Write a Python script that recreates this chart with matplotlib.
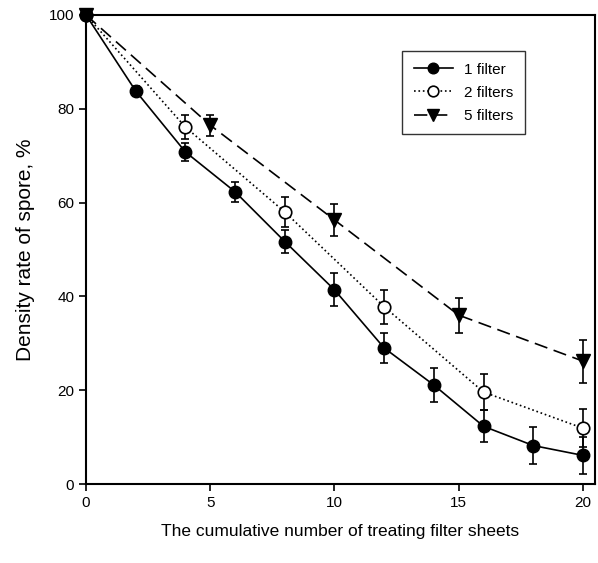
import numpy as np
import matplotlib
matplotlib.use("Agg")
import matplotlib.pyplot as plt

plt.rcParams['font.family'] = ['Liberation Sans', 'DejaVu Sans']

# data
x_one = [0, 2, 4, 6, 8, 10, 12, 14, 16, 18, 20]
y_one = [100, 83.8, 70.8, 62.3, 51.7, 41.4, 29.0, 21.1, 12.3, 8.2, 6.1]
e_one = [0, 1.0, 1.9, 2.1, 2.5, 3.5, 3.2, 3.6, 3.4, 4.0, 4.0]

x_two = [0, 4, 8, 12, 16, 20]
y_two = [100, 76.1, 58.0, 37.8, 19.6, 11.9]
e_two = [0, 2.5, 3.2, 3.6, 3.9, 4.0]

x_five = [0, 5, 10, 15, 20]
y_five = [100, 76.5, 56.3, 36.0, 26.2]
e_five = [0, 2.2, 3.4, 3.7, 4.6]

labels = ['1 filter', '2 filters', '5 filters']

fig = plt.figure(figsize=(5.98, 5.63), dpi=100)
ax = fig.add_axes([0.1438, 0.1403, 0.851, 0.8331])

kw = dict(color='black', lw=1.2, ecolor='black', elinewidth=1.2, capsize=3,
          capthick=1.2, clip_on=False)
ax.errorbar(x_one, y_one, yerr=e_one, fmt='-', marker='o', ms=9,
            mfc='black', mec='black', label=labels[0], zorder=5, **kw)
ax.errorbar(x_two, y_two, yerr=e_two, fmt=':', marker='o', ms=9,
            mfc='white', mec='black', mew=1.2, label=labels[1], zorder=4, **kw)
ax.errorbar(x_five, y_five, yerr=e_five, fmt='--', marker='v', ms=10,
            mfc='black', mec='black', dashes=(8, 4), label=labels[2], zorder=3, **kw)

ax.set_xlim(0, 20.48)
ax.set_ylim(0, 100)
ax.set_xticks([0, 5, 10, 15, 20])
ax.set_yticks([0, 20, 40, 60, 80, 100])
ax.tick_params(direction='out', length=5, width=1.2, labelsize=11,
               top=False, right=False)
for s in ax.spines.values():
    s.set_linewidth(1.5)

ax.set_xlabel('The cumulative number of treating filter sheets', fontsize=12.5,
              labelpad=10)
ax.set_ylabel('Density rate of spore, %', fontsize=15, labelpad=10)

# legend without error bars in handles
handles, _ = ax.get_legend_handles_labels()
handles = [h[0] for h in handles]
leg = ax.legend(handles, labels, loc='upper right', bbox_to_anchor=(0.862, 0.923),
                fontsize=11, frameon=True, fancybox=False, handlelength=2.6,
                borderpad=0.75, labelspacing=0.6, markerscale=0.85,
                handletextpad=0.7, borderaxespad=0)
leg.get_frame().set_edgecolor('black')
leg.get_frame().set_linewidth(1.0)
leg.set_zorder(6)

fig.savefig('out.png', dpi=100)
